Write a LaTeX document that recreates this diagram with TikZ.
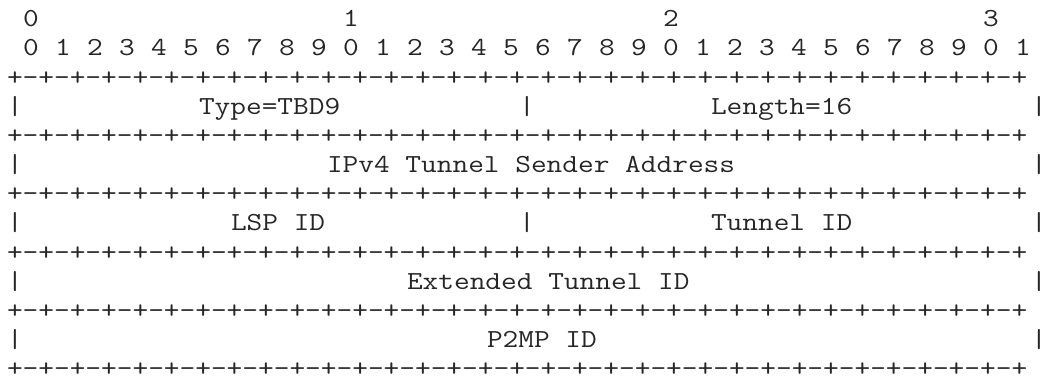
\documentclass[tikz,border=0pt]{standalone}
\usepackage{fontspec}
\usepackage{tikz}
\newfontfamily\asciifont{Latin Modern Mono}[FakeStretch=1.1722]
\tikzset{
  cell/.style={inner sep=0pt, outer sep=0pt, anchor=base, text=black!85,
    font=\asciifont\fontsize{13}{16}\selectfont},
  field/.style={cell, anchor=base west},
}

\begin{document}
\begin{tikzpicture}[x=0.5pt, y=-0.5pt]
    \def\w{16}      % one character
    \def\h{29.17}   % one line
    \def\top{26.7}  % first baseline
    \useasboundingbox (0,0) rectangle (1045,379);

    % ===== Bit ruler =====
    \foreach \t in {0,1,2,3} {
        \node[cell] (dec\t) at ({15+(20*\t+1)*\w}, \top) {\t};
    }
    \foreach \i in {0,...,31} {
        \pgfmathtruncatemacro\d{mod(\i,10)}
        \node[cell] (bit\i) at ({15+(2*\i+1)*\w}, {\top+\h}) {\d};
    }

    % ===== Borders =====
    \foreach \k in {2,4,6,8,10,12} {
        \node[field] (border\k) at (7, {\top+\k*\h})
            {+-+-+-+-+-+-+-+-+-+-+-+-+-+-+-+-+-+-+-+-+-+-+-+-+-+-+-+-+-+-+-+-+};
    }

    % ===== Side bars =====
    \foreach \k/\c in {3/0,3/32,3/64,5/0,5/64,7/0,7/32,7/64,9/0,9/64,11/0,11/64} {
        \node[cell] (bar\k-\c) at ({15+\c*\w}, {\top+\k*\h}) {|};
    }

    % ===== Fields =====
    \node[field] (type)    at ({7+12*\w}, {\top+3*\h})  {Type=TBD9};
    \node[field] (length)  at ({7+44*\w}, {\top+3*\h})  {Length=16};
    \node[field] (sender)  at ({7+20*\w}, {\top+5*\h})  {IPv4 Tunnel Sender Address};
    \node[field] (lspid)   at ({7+14*\w}, {\top+7*\h})  {LSP ID};
    \node[field] (tunid)   at ({7+44*\w}, {\top+7*\h})  {Tunnel ID};
    \node[field] (exttun)  at ({7+25*\w}, {\top+9*\h})  {Extended Tunnel ID};
    \node[field] (ptmp)    at ({7+30*\w}, {\top+11*\h}) {P2MP ID};
\end{tikzpicture}
\end{document}
